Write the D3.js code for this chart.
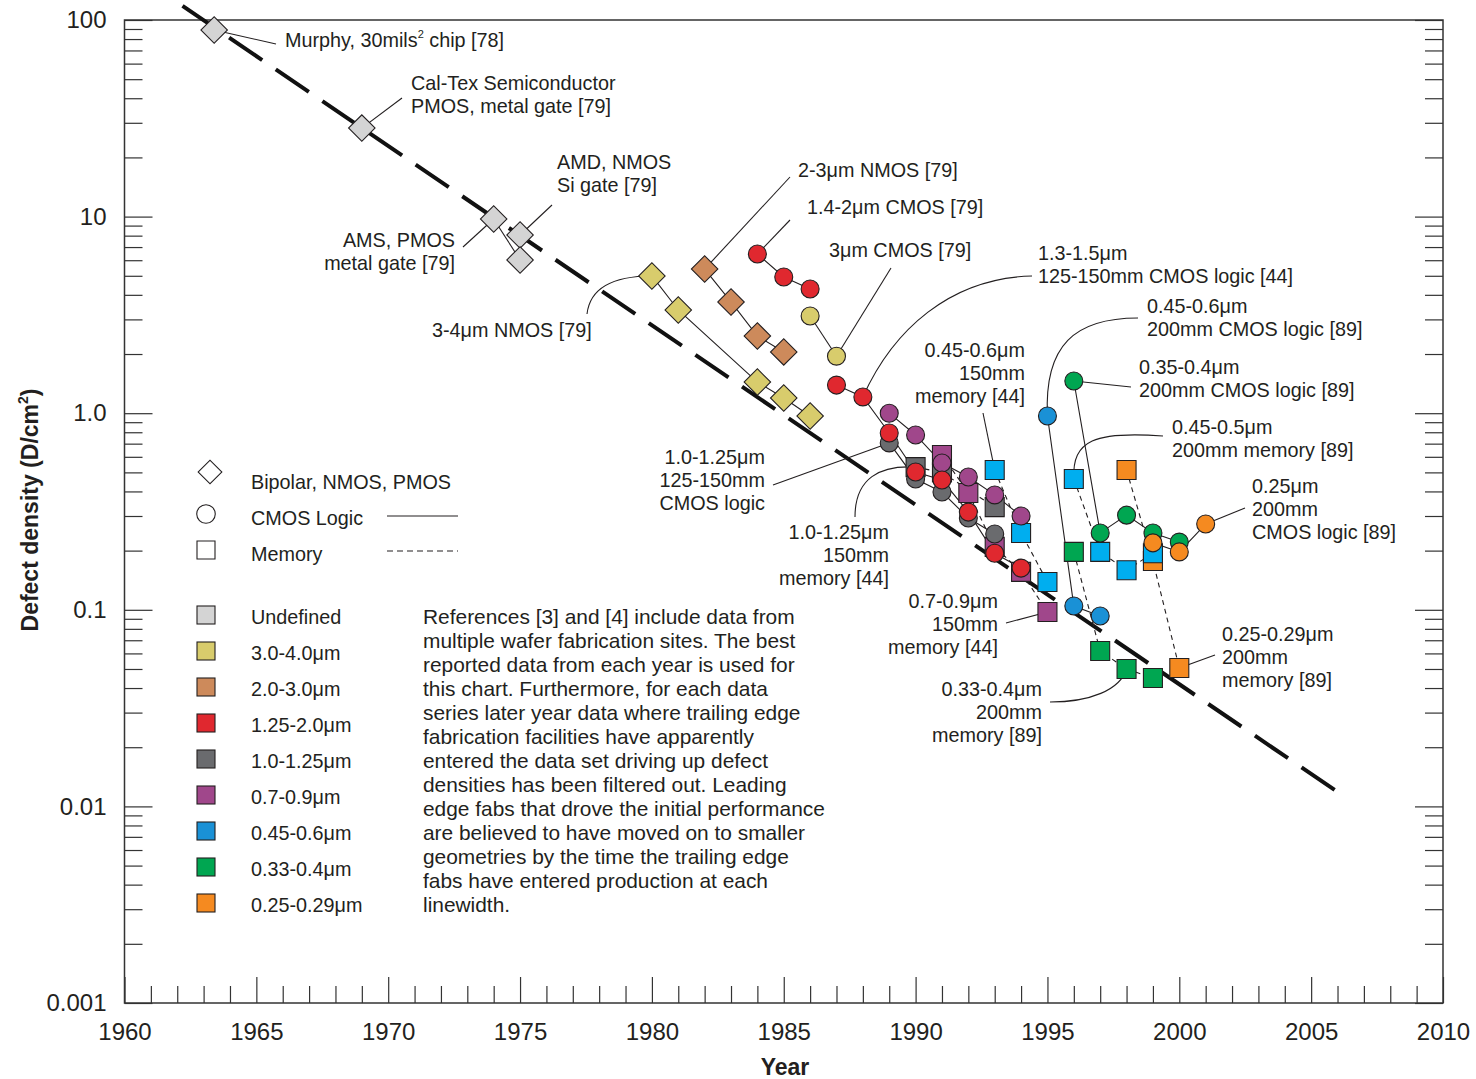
<!DOCTYPE html>
<html>
<head>
<meta charset="utf-8">
<script src="https://cdn.jsdelivr.net/npm/d3@7"></script>
<style>
  body { margin: 0; background: #fff; }
  svg { font-family: "Liberation Sans", Arial, sans-serif; }
  text { fill: #231f20; }
</style>
</head>
<body>
<div id="graph"></div>
<script>
// ---- data (year, defects per cm²) ----
const murphy = [[1963.4, 89]];
const calTex = [[1969, 28.2]];
const ams = [[1974, 9.72], [1975, 6.02]];
const amd = [[1975, 8.06]];
const nmos34 = [[1980, 4.99], [1981, 3.35], [1984, 1.44], [1985, 1.195], [1986, 0.968]];
const nmos23 = [[1982, 5.41], [1983, 3.68], [1984, 2.47], [1985, 2.05]];
const cmos142 = [[1984, 6.45], [1985, 4.93], [1986, 4.28]];
const cmos3 = [[1986, 3.12], [1987, 1.95]];
const cmos1315 = [[1987, 1.39], [1988, 1.21], [1989, 0.793], [1990, 0.502], [1991, 0.457], [1992, 0.314], [1993, 0.194], [1994, 0.163]];
const cmos1012 = [[1989, 0.706], [1990, 0.463], [1991, 0.397], [1992, 0.293], [1993, 0.243]];
const cmos0709 = [[1989, 1.0], [1990, 0.775], [1991, 0.558], [1992, 0.474], [1993, 0.384], [1994, 0.3]];
const mem1012 = [[1990, 0.532], [1991, 0.5], [1993, 0.333]];
const mem0709 = [[1991, 0.613], [1992, 0.393], [1993, 0.209], [1994, 0.156], [1995, 0.0975]];
const mem4560 = [[1993, 0.514], [1994, 0.246], [1995, 0.1385]];
const cmos4560 = [[1995, 0.968], [1996, 0.1045], [1997, 0.093]];
const cmos3540 = [[1996, 1.458], [1997, 0.246], [1998, 0.303], [1999, 0.246], [2000, 0.221]];
const cmos25 = [[1999, 0.219], [2000, 0.197], [2001, 0.273]];
const mem3340 = [[1996, 0.197], [1997, 0.0617], [1998, 0.05], [1999, 0.045]];
const mem2529 = [[1998, 0.514], [1999, 0.177], [2000, 0.0506]];
const mem4550 = [[1996, 0.463], [1997, 0.197], [1998, 0.159], [1999, 0.194]];

const trendYears = [1962.2, 2005.9];
const trendValues = [118, 0.0121];

const xTicks = [1960, 1965, 1970, 1975, 1980, 1985, 1990, 1995, 2000, 2005, 2010];
const yTicks = [0.001, 0.01, 0.1, 1, 10, 100];
const yTickLabels = ["0.001", "0.01", "0.1", "1.0", "10", "100"];

const lineClasses = ["Undefined", "3.0-4.0μm", "2.0-3.0μm", "1.25-2.0μm", "1.0-1.25μm", "0.7-0.9μm", "0.45-0.6μm", "0.33-0.4μm", "0.25-0.29μm"];
const shapeNames = ["Bipolar, NMOS, PMOS", "CMOS Logic", "Memory"];

const paragraph = [
  "References [3] and [4] include data from",
  "multiple wafer fabrication sites. The best",
  "reported data from each year is used for",
  "this chart. Furthermore, for each data",
  "series later year data where trailing edge",
  "fabrication facilities have apparently",
  "entered the data set driving up defect",
  "densities has been filtered out. Leading",
  "edge fabs that drove the initial performance",
  "are believed to have moved on to smaller",
  "geometries by the time the trailing edge",
  "fabs have entered production at each",
  "linewidth."
];

// ---- styles ----
const classColor = {
  "Undefined": "#d4d4d4", "3.0-4.0μm": "#d8cc6c", "2.0-3.0μm": "#cd8a5b", "1.25-2.0μm": "#e0282f",
  "1.0-1.25μm": "#6a6b6e", "0.7-0.9μm": "#a0478b", "0.45-0.6μm": "#1a91d6", "0.33-0.4μm": "#00a651",
  "0.25-0.29μm": "#f58a20"
};
const memBlue = "#00aeef";

// series table: data, class, shape, dashed
const series = [
  { d: murphy, c: "Undefined", s: "diamond" },
  { d: calTex, c: "Undefined", s: "diamond" },
  { d: amd, c: "Undefined", s: "diamond" },
  { d: ams, c: "Undefined", s: "diamond" },
  { d: nmos34, c: "3.0-4.0μm", s: "diamond" },
  { d: nmos23, c: "2.0-3.0μm", s: "diamond" },
  { d: mem1012, c: "1.0-1.25μm", s: "square", dash: true },
  { d: mem0709, c: "0.7-0.9μm", s: "square", dash: true },
  { d: mem4560, c: "0.45-0.6μm", s: "square", dash: true },
  { d: mem3340, c: "0.33-0.4μm", s: "square", dash: true },
  { d: mem2529, c: "0.25-0.29μm", s: "square", dash: true },
  { d: mem4550, c: "0.45-0.6μm", s: "square", dash: true },
  { d: cmos1012, c: "1.0-1.25μm", s: "circle" },
  { d: cmos0709, c: "0.7-0.9μm", s: "circle" },
  { d: cmos1315, c: "1.25-2.0μm", s: "circle" },
  { d: cmos142, c: "1.25-2.0μm", s: "circle" },
  { d: cmos3, c: "3.0-4.0μm", s: "circle" },
  { d: cmos4560, c: "0.45-0.6μm", s: "circle" },
  { d: cmos3540, c: "0.33-0.4μm", s: "circle" },
  { d: cmos25, c: "0.25-0.29μm", s: "circle" }
];

const W = 1476, H = 1079;
const svg = d3.select("#graph").append("svg").attr("width", W).attr("height", H);
const x = d3.scaleLinear().domain([1960, 2010]).range([124.5, 1443]);
const y = d3.scaleLog().domain([0.001, 100]).range([1003, 20]);

const ink = "#231f20";
const symbolPath = (s) => {
  if (s === "circle") return d3.symbol(d3.symbolCircle, 254)();
  if (s === "square") return d3.symbol(d3.symbolSquare, 361)();
  return d3.symbol(d3.symbolSquare, 350)();
};

// ---- axes ----
const axisG = svg.append("g").attr("font-size", 24);
const minorY = y.ticks().filter((t) => !yTicks.some((m) => Math.abs(m - t) < 1e-9));
const minorX = d3.range(1961, 2010).filter((t) => t % 5 !== 0);

function styleAxis(g) {
  g.attr("font-family", null).attr("font-size", null);
  g.select(".domain").remove();
  g.selectAll("line").attr("stroke", "#333").attr("stroke-width", 1.2);
  g.selectAll("text").attr("fill", ink);
}
axisG.append("g").attr("transform", "translate(124.5,0)")
  .call(d3.axisLeft(y).tickValues(yTicks).tickFormat((d, i) => yTickLabels[i]).tickSizeInner(-28).tickSizeOuter(0).tickPadding(18))
  .call(styleAxis);
axisG.append("g").attr("transform", "translate(124.5,0)")
  .call(d3.axisLeft(y).tickValues(minorY).tickFormat("").tickSizeInner(-18).tickSizeOuter(0)).call(styleAxis);
axisG.append("g").attr("transform", "translate(1443,0)")
  .call(d3.axisRight(y).tickValues(yTicks).tickFormat("").tickSizeInner(-28).tickSizeOuter(0)).call(styleAxis);
axisG.append("g").attr("transform", "translate(1443,0)")
  .call(d3.axisRight(y).tickValues(minorY).tickFormat("").tickSizeInner(-18).tickSizeOuter(0)).call(styleAxis);
axisG.append("g").attr("transform", "translate(0,1003)")
  .call(d3.axisBottom(x).tickValues(xTicks).tickFormat(d3.format("d")).tickSizeInner(-26).tickSizeOuter(0).tickPadding(20))
  .call(styleAxis);
axisG.append("g").attr("transform", "translate(0,1003)")
  .call(d3.axisBottom(x).tickValues(minorX).tickFormat("").tickSizeInner(-17).tickSizeOuter(0)).call(styleAxis);

svg.append("rect").attr("x", 124.5).attr("y", 20).attr("width", 1443 - 124.5).attr("height", 983)
  .attr("fill", "none").attr("stroke", "#333").attr("stroke-width", 1.5);

svg.append("text").attr("x", 785).attr("y", 1075).attr("text-anchor", "middle")
  .attr("font-size", 23).attr("font-weight", "bold").text("Year");
const yt = svg.append("text").attr("transform", "translate(38,510) rotate(-90)").attr("text-anchor", "middle")
  .attr("font-size", 23).attr("font-weight", "bold");
yt.append("tspan").text("Defect density (D/cm");
yt.append("tspan").attr("font-size", 14).attr("dy", -10).text("2");
yt.append("tspan").attr("dy", 10).text(")");

// ---- trend line ----
svg.append("path")
  .datum(d3.zip(trendYears, trendValues))
  .attr("d", d3.line().x((d) => x(d[0])).y((d) => y(d[1])))
  .attr("stroke", "#111").attr("stroke-width", 4).attr("stroke-dasharray", "40 16.4").attr("fill", "none");

// ---- leader lines (label end in px, point from data) ----
const pt = (arr, i) => [x(arr[i][0]), y(arr[i][1])];
const leaders = [
  { from: [276, 44], to: pt(murphy, 0) },
  { from: [402, 98], to: pt(calTex, 0) },
  { from: [552, 205], to: pt(amd, 0) },
  { from: [463, 247], to: pt(ams, 0) },
  { from: [587, 314], c: [[590, 288], [612, 276]], to: pt(nmos34, 0) },
  { from: [790, 177], to: pt(nmos23, 0) },
  { from: [790, 220], to: pt(cmos142, 0) },
  { from: [891, 268], to: pt(cmos3, 1) },
  { from: [1032, 276], c: [[950, 278], [893, 330]], to: pt(cmos1315, 1) },
  { from: [1138, 318], c: [[1075, 318], [1044, 345]], to: pt(cmos4560, 0) },
  { from: [983, 413], to: pt(mem4560, 0) },
  { from: [1131, 387], to: pt(cmos3540, 0) },
  { from: [1163, 436], c: [[1095, 431], [1072, 440]], to: pt(mem4550, 0) },
  { from: [1245, 508], to: pt(cmos25, 2) },
  { from: [773, 485], to: pt(cmos1012, 0) },
  { from: [855, 517], c: [[855, 478], [880, 465]], to: pt(mem1012, 0) },
  { from: [1006, 623], to: pt(mem0709, 4) },
  { from: [1050, 702], c: [[1090, 702], [1120, 690]], to: pt(mem3340, 2) },
  { from: [1215, 655], to: pt(mem2529, 2) }
];
svg.append("g").selectAll("path").data(leaders).join("path")
  .attr("d", (l) => {
    const p = d3.path();
    p.moveTo(l.from[0], l.from[1]);
    if (l.c) p.bezierCurveTo(l.c[0][0], l.c[0][1], l.c[1][0], l.c[1][1], l.to[0], l.to[1]);
    else p.lineTo(l.to[0], l.to[1]);
    return p.toString();
  })
  .attr("fill", "none").attr("stroke", ink).attr("stroke-width", 1.1);

// ---- series lines then markers ----
const line = d3.line().x((d) => x(d[0])).y((d) => y(d[1]));
svg.append("g").selectAll("path").data(series.filter((s) => s.d.length > 1)).join("path")
  .attr("d", (s) => line(s.d))
  .attr("fill", "none").attr("stroke", ink).attr("stroke-width", 1.1)
  .attr("stroke-dasharray", (s) => (s.dash ? "5 4" : null));

const fillOf = (s) => (s.s === "square" && s.c === "0.45-0.6μm" ? memBlue : classColor[s.c]);
series.forEach((s) => {
  svg.append("g").selectAll("path").data(s.d).join("path")
    .attr("d", symbolPath(s.s))
    .attr("transform", (d) => `translate(${x(d[0])},${y(d[1])})${s.s === "diamond" ? " rotate(45)" : ""}`)
    .attr("fill", fillOf(s)).attr("stroke", ink).attr("stroke-width", 1.1);
});

// ---- annotation labels ----
const labels = [
  { x: 411, y: 83, t: ["Cal-Tex Semiconductor", "PMOS, metal gate [79]"] },
  { x: 557, y: 162, t: ["AMD, NMOS", "Si gate [79]"] },
  { x: 455, y: 240, t: ["AMS, PMOS", "metal gate [79]"], a: "end" },
  { x: 432, y: 330, t: ["3-4μm NMOS [79]"] },
  { x: 798, y: 170, t: ["2-3μm NMOS [79]"] },
  { x: 807, y: 207, t: ["1.4-2μm CMOS [79]"] },
  { x: 829, y: 250, t: ["3μm CMOS [79]"] },
  { x: 1038, y: 253, t: ["1.3-1.5μm", "125-150mm CMOS logic [44]"] },
  { x: 1147, y: 306, t: ["0.45-0.6μm", "200mm CMOS logic [89]"] },
  { x: 1025, y: 350, t: ["0.45-0.6μm", "150mm", "memory [44]"], a: "end" },
  { x: 1139, y: 367, t: ["0.35-0.4μm", "200mm CMOS logic [89]"] },
  { x: 1172, y: 427, t: ["0.45-0.5μm", "200mm memory [89]"] },
  { x: 1252, y: 486, t: ["0.25μm", "200mm", "CMOS logic [89]"] },
  { x: 765, y: 457, t: ["1.0-1.25μm", "125-150mm", "CMOS logic"], a: "end" },
  { x: 889, y: 532, t: ["1.0-1.25μm", "150mm", "memory [44]"], a: "end" },
  { x: 998, y: 601, t: ["0.7-0.9μm", "150mm", "memory [44]"], a: "end" },
  { x: 1042, y: 689, t: ["0.33-0.4μm", "200mm", "memory [89]"], a: "end" },
  { x: 1222, y: 634, t: ["0.25-0.29μm", "200mm", "memory [89]"] }
];
const lab = svg.append("g").attr("font-size", 19.8);
labels.forEach((l) => {
  const t = lab.append("text").attr("text-anchor", l.a || "start");
  l.t.forEach((s, i) => t.append("tspan").attr("x", l.x).attr("y", l.y + i * 23).attr("dy", "0.35em").text(s));
});
const mt = lab.append("text").attr("x", 285).attr("y", 40).attr("dy", "0.35em");
mt.append("tspan").text("Murphy, 30mils");
mt.append("tspan").attr("font-size", 11).attr("dy", -9).text("2");
mt.append("tspan").attr("dy", 9).text(" chip [78]");

const par = svg.append("text").attr("font-size", 20.9);
paragraph.forEach((s, i) => par.append("tspan").attr("x", 423).attr("y", 617 + i * 24).attr("dy", "0.35em").text(s));

// ---- legend ----
const lg = svg.append("g").attr("font-size", 19.8);
const shapeKeys = ["diamond", "circle", "square"];
shapeNames.forEach((n, i) => {
  const cy = 480 + i * 36;
  lg.append("path").attr("d", shapeKeys[i] === "diamond" ? d3.symbol(d3.symbolSquare, 280)() : shapeKeys[i] === "circle" ? d3.symbol(d3.symbolCircle, 270)() : d3.symbol(d3.symbolSquare, 324)())
    .attr("transform", `translate(${i === 0 ? 210 : 206},${i === 0 ? cy - 8 : cy - 2})${i === 0 ? " rotate(45)" : ""}`)
    .attr("fill", "#fff").attr("stroke", ink).attr("stroke-width", 1.1);
  lg.append("text").attr("x", 251).attr("y", cy + 2).attr("dy", "0.35em").text(n);
});
lg.append("line").attr("x1", 387).attr("x2", 458).attr("y1", 516).attr("y2", 516).attr("stroke", ink).attr("stroke-width", 1.1);
lg.append("line").attr("x1", 387).attr("x2", 458).attr("y1", 551).attr("y2", 551).attr("stroke", ink).attr("stroke-width", 1.1).attr("stroke-dasharray", "6 4");
lineClasses.forEach((c, i) => {
  const cy = 615 + i * 36;
  lg.append("rect").attr("x", 197).attr("y", cy - 9).attr("width", 18).attr("height", 18)
    .attr("fill", classColor[c]).attr("stroke", ink).attr("stroke-width", 1.1);
  lg.append("text").attr("x", 251).attr("y", cy + 2).attr("dy", "0.35em").text(c);
});
</script>
</body>
</html>
